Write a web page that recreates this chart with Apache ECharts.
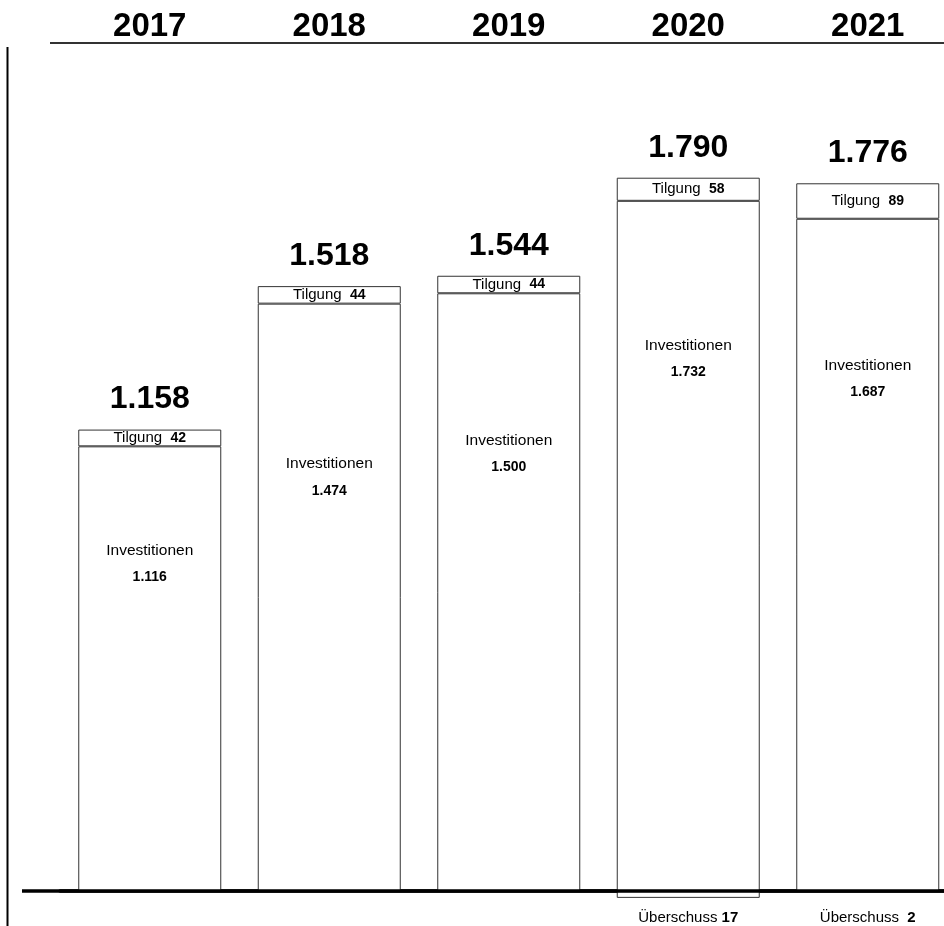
<!DOCTYPE html>
<html>
<head>
<meta charset="utf-8">
<script src="https://cdn.jsdelivr.net/npm/echarts@6/dist/echarts.min.js"></script>
<style>
html,body{margin:0;padding:0;background:#fff;}
#chart{width:944px;height:926px;}
</style>
</head>
<body>
<div id="chart"></div>
<script>
// ---- data ----
const years = ['2017', '2018', '2019', '2020', '2021'];
const investitionen = [1116, 1474, 1500, 1732, 1687];
const tilgung = [42, 44, 44, 58, 89];
const ueberschuss = [0, 0, 0, 17, 2];
const gesamt = [1158, 1518, 1544, 1790, 1776];
// label placement inside the Investitionen bars (fraction from the bar top)
const invLabelPos = ['26.4%', '29.6%', '26.9%', '22.9%', '23.8%'];

const fmt = v => String(v).replace(/\B(?=(\d{3})+(?!\d))/g, '.');
const FONT = 'Liberation Sans, Arial, sans-serif';
const border = { color: '#ffffff', borderColor: '#333333', borderWidth: 1 };

const chart = echarts.init(document.getElementById('chart'), null, { renderer: 'canvas' });

const option = {
  backgroundColor: '#ffffff',
  animation: false,
  grid: { left: 60, width: 897.5, top: 43, bottom: 5, containLabel: false, outerBoundsMode: 'none' },
  xAxis: [
    {
      type: 'category', data: years, position: 'top',
      axisLine: { show: false, onZero: false }, axisTick: { show: false },
      axisLabel: { fontFamily: FONT, fontSize: 33, fontWeight: 'bold', color: '#000',
        verticalAlign: 'middle', margin: 16 }
    },
    {
      type: 'category', data: years, position: 'bottom',
      axisLine: { show: true, onZero: true, onZeroAxisIndex: 0, lineStyle: { color: '#000', width: 3.5 } },
      axisTick: { show: false },
      axisLabel: { show: false }
    }
  ],
  yAxis: { type: 'value', min: -75, max: 2128, show: false, splitLine: { show: false } },
  series: [
    {
      name: 'Investitionen', type: 'bar', stack: 'a', xAxisIndex: 1, barWidth: 143,
      data: investitionen.map((v, i) => ({ value: v, label: { position: ['50%', invLabelPos[i]] } })),
      itemStyle: border,
      label: {
        show: true, align: 'center', verticalAlign: 'middle',
        fontFamily: FONT, fontSize: 15.5, color: '#000', lineHeight: 27,
        formatter: p => 'Investitionen\n{b|' + fmt(p.value) + '}',
        rich: { b: { fontFamily: FONT, fontSize: 14, fontWeight: 'bold', color: '#000', lineHeight: 27 } }
      }
    },
    {
      name: 'Tilgung', type: 'bar', stack: 'a', xAxisIndex: 1, barWidth: 143,
      data: tilgung, itemStyle: border,
      label: {
        show: true, position: 'inside', fontFamily: FONT, fontSize: 15, color: '#000',
        formatter: p => 'Tilgung  {b|' + fmt(p.value) + '}',
        rich: { b: { fontFamily: FONT, fontSize: 14, fontWeight: 'bold', color: '#000' } }
      }
    },
    {
      name: 'Überschuss', type: 'bar', stack: 'a', xAxisIndex: 1, barWidth: 143,
      data: ueberschuss.map(v => v ? -v : '-'), itemStyle: border,
      label: {
        show: true, position: ['50%', 27], align: 'center', verticalAlign: 'middle',
        fontFamily: FONT, fontSize: 15, color: '#000',
        formatter: p => 'Überschuss ' + (-p.value < 10 ? ' ' : '') + '{b|' + fmt(-p.value) + '}',
        rich: { b: { fontFamily: FONT, fontSize: 15, fontWeight: 'bold', color: '#000' } }
      }
    },
    {
      name: 'Gesamt', type: 'scatter', xAxisIndex: 1, symbolSize: 0,
      data: gesamt, silent: true, itemStyle: { opacity: 1 },
      label: {
        show: true, position: 'top', distance: 14,
        fontFamily: FONT, fontSize: 32, fontWeight: 'bold', color: '#000',
        formatter: p => fmt(p.value)
      }
    }
  ]
};
chart.setOption(option);

const y0 = chart.convertToPixel({ yAxisIndex: 0 }, 0);
chart.setOption({
  graphic: [
    { type: 'line', shape: { x1: 50, y1: 43, x2: 944, y2: 43 }, style: { stroke: '#333', lineWidth: 2 }, z: 10 },
    { type: 'line', shape: { x1: 7.5, y1: 47, x2: 7.5, y2: 926 }, style: { stroke: '#000', lineWidth: 2 }, z: 10 },
    { type: 'line', shape: { x1: 22, y1: y0, x2: 944, y2: y0 }, style: { stroke: '#000', lineWidth: 3.5 }, z: 10 }
  ]
});
</script>
</body>
</html>
